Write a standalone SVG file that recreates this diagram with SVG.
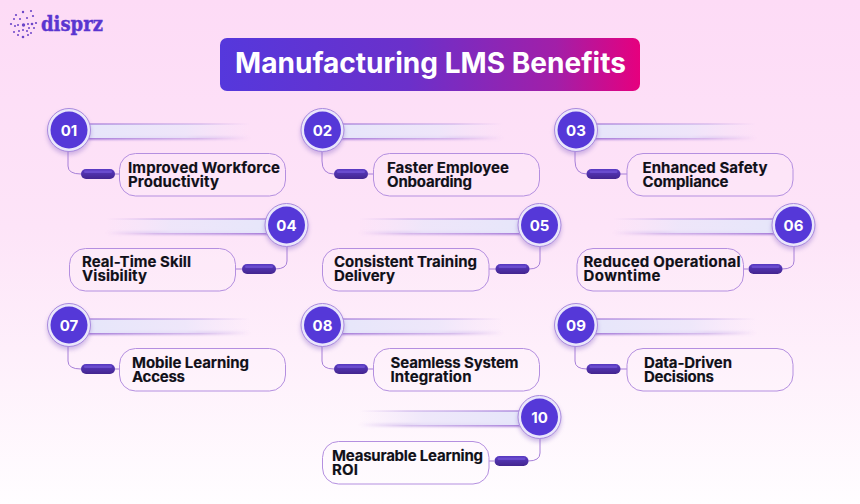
<svg xmlns="http://www.w3.org/2000/svg" xmlns:xlink="http://www.w3.org/1999/xlink" width="860" height="504" viewBox="0 0 860 504">
<style>
.lbl{font-family:"Inter","Liberation Sans",sans-serif;font-weight:700;font-size:15px;fill:#101018;stroke:#101018;stroke-width:.15}
.num{font-family:"Inter","Liberation Sans",sans-serif;font-weight:700;font-size:15px;fill:#fff;text-anchor:middle}
.box{fill:#fff;fill-opacity:.12;stroke:#b48fe0;stroke-width:1}
.wire{fill:none;stroke:#a67fd8;stroke-width:1}
.dot{fill:#6b45c8}
</style>
<defs>
<linearGradient id="bg" x1="0" y1="0" x2="0" y2="1"><stop offset="0" stop-color="#fddbf6"/><stop offset=".45" stop-color="#fde4f8"/><stop offset="1" stop-color="#fffdff"/></linearGradient>
<linearGradient id="title" x1="0" y1="0" x2="1" y2="0"><stop offset="0" stop-color="#5538dc"/><stop offset=".45" stop-color="#6b30ca"/><stop offset=".8" stop-color="#a21fa8"/><stop offset="1" stop-color="#e6007e"/></linearGradient>
<linearGradient id="barR" x1="0" y1="0" x2="1" y2="0"><stop offset="0" stop-color="#e6e6fa"/><stop offset=".6" stop-color="#ece6fa" stop-opacity=".85"/><stop offset="1" stop-color="#f4e6fa" stop-opacity="0"/></linearGradient>
<linearGradient id="barL" x1="1" y1="0" x2="0" y2="0"><stop offset="0" stop-color="#e6e6fa"/><stop offset=".6" stop-color="#ece6fa" stop-opacity=".85"/><stop offset="1" stop-color="#f4e6fa" stop-opacity="0"/></linearGradient>
<linearGradient id="edgeR" x1="0" y1="0" x2="1" y2="0"><stop offset="0" stop-color="#8f5fd0"/><stop offset=".7" stop-color="#a884dc" stop-opacity=".6"/><stop offset="1" stop-color="#b48fe0" stop-opacity="0"/></linearGradient>
<linearGradient id="edgeL" x1="1" y1="0" x2="0" y2="0"><stop offset="0" stop-color="#8f5fd0"/><stop offset=".7" stop-color="#a884dc" stop-opacity=".6"/><stop offset="1" stop-color="#b48fe0" stop-opacity="0"/></linearGradient>
<linearGradient id="pill" x1="0" y1="0" x2="0" y2="1"><stop offset="0" stop-color="#5a3cc4"/><stop offset="1" stop-color="#43258f"/></linearGradient>
<filter id="soft" x="-20%" y="-100%" width="140%" height="300%"><feGaussianBlur stdDeviation="1"/></filter>
<filter id="shade" x="-30%" y="-30%" width="160%" height="170%"><feGaussianBlur stdDeviation="2"/></filter>
<g id="medal">
<circle cx="0" cy="3" r="22" fill="#8a68c8" opacity=".4" filter="url(#shade)"/>
<circle r="21.5" fill="#eae6fb" stroke="#a98ade" stroke-width="1"/>
<circle r="18.5" fill="#5538d8"/>
</g>
<g id="barRight">
<rect x="0" y="6.500" width="162" height="3" fill="url(#edgeR)" filter="url(#soft)"/>
<rect x="0" y="-6" width="162" height="14" fill="url(#barR)"/>
<rect x="0" y="-6.500" width="162" height="1" fill="url(#edgeR)"/>
</g>
<g id="barLeft">
<rect x="-162" y="6.500" width="162" height="3" fill="url(#edgeL)" filter="url(#soft)"/>
<rect x="-162" y="-6" width="162" height="14" fill="url(#barL)"/>
<rect x="-162" y="-6.500" width="162" height="1" fill="url(#edgeL)"/>
</g>
<g id="pillShape">
<rect x="0" y="-5" width="34" height="10" rx="5" fill="url(#pill)"/>
<rect x="3" y="-3.500" width="28" height="2.500" rx="1.200" fill="#7a5ce0" opacity=".6"/>
</g>
</defs>
<rect width="860" height="504" fill="url(#bg)"/>
<g id="logo">
<g class="dot">
<circle cx="23.500" cy="25" r="1.700"/><circle cx="16" cy="15" r="1.100"/><circle cx="23" cy="12" r="1.200"/><circle cx="31" cy="11" r="1.100"/><circle cx="33" cy="16" r="1.100"/><circle cx="27" cy="18" r="1"/><circle cx="20" cy="19" r="1"/><circle cx="14" cy="19" r="1"/><circle cx="11" cy="24" r="1.100"/><circle cx="15" cy="26" r="1"/><circle cx="32" cy="24" r="1.300"/><circle cx="36" cy="23" r="1.100"/><circle cx="28" cy="24" r="1"/><circle cx="14" cy="32" r="1"/><circle cx="19" cy="31" r="1"/><circle cx="23" cy="37" r="1.300"/><circle cx="27" cy="31" r="1"/><circle cx="31" cy="33" r="1"/><circle cx="18" cy="35" r="1"/><circle cx="29" cy="28" r="1"/><circle cx="23" cy="30" r="1"/><circle cx="34" cy="28" r="1"/><circle cx="28" cy="35" r="1"/><circle cx="18" cy="25" r="1"/>
</g>
<text x="41" y="31" font-family="DejaVu Serif, serif" font-weight="700" font-size="21" fill="#5a35d0" stroke="#5a35d0" stroke-width=".4" textLength="62" lengthAdjust="spacingAndGlyphs">disprz</text>
</g>
<g id="title-node">
<rect x="220" y="38" width="420" height="53" rx="7" fill="url(#title)"/>
<text x="430.500" y="73" font-family="Inter, Liberation Sans, sans-serif" font-weight="700" font-size="28" fill="#fff" text-anchor="middle" textLength="391" lengthAdjust="spacingAndGlyphs">Manufacturing LMS Benefits</text>
</g>
<g id="connectors">
<path class="wire" d="M68 150V166Q68 174 81 174M115 174H119.500"/>
<path class="wire" d="M322 150V161Q322 174 334 174M368 174H373.500"/>
<path class="wire" d="M575 150V161Q575 174 587 174M620 174H627"/>
<path class="wire" d="M287 246V261Q287 269 275 269M242 269H236"/>
<path class="wire" d="M540 246V261Q540 269 529 269M496 269H489"/>
<path class="wire" d="M794 246V261Q794 269 782 269M748 269H743"/>
<path class="wire" d="M68 345V361Q68 369 81 369M115 369H119.500"/>
<path class="wire" d="M322 345V361Q322 369 334 369M368 369H373.500"/>
<path class="wire" d="M575 345V361Q575 369 587 369M620 369H627"/>
<path class="wire" d="M540 438V453Q540 461 528 461M494 461H489"/>
</g>
<g id="n01"><rect class="box" x="119.500" y="153.500" width="166" height="42.500" rx="16"/><use xlink:href="#pillShape" x="81" y="174"/><use xlink:href="#barRight" x="88" y="130"/><use xlink:href="#medal" x="69" y="130"/><text class="num" x="69" y="135.500">01</text><text class="lbl" x="128" y="173" textLength="152">Improved Workforce</text><text class="lbl" x="128" y="187" textLength="91">Productivity</text></g>
<g id="n02"><rect class="box" x="373.500" y="153.500" width="166" height="42.500" rx="16"/><use xlink:href="#pillShape" x="334" y="174"/><use xlink:href="#barRight" x="341" y="130"/><use xlink:href="#medal" x="322.500" y="130"/><text class="num" x="322.500" y="135.500">02</text><text class="lbl" x="387" y="173" textLength="122">Faster Employee</text><text class="lbl" x="387" y="187" textLength="85">Onboarding</text></g>
<g id="n03"><rect class="box" x="627" y="153.500" width="166" height="42.500" rx="16"/><use xlink:href="#pillShape" x="586.500" y="174"/><use xlink:href="#barRight" x="594" y="130"/><use xlink:href="#medal" x="576" y="130"/><text class="num" x="576" y="135.500">03</text><text class="lbl" x="642.500" y="173" textLength="125">Enhanced Safety</text><text class="lbl" x="642.500" y="187" textLength="86">Compliance</text></g>
<g id="n04"><rect class="box" x="69.500" y="248.500" width="166" height="42.500" rx="16"/><use xlink:href="#pillShape" x="242" y="269"/><use xlink:href="#barLeft" x="268" y="225"/><use xlink:href="#medal" x="286.500" y="225"/><text class="num" x="286.500" y="230.500">04</text><text class="lbl" x="82" y="267" textLength="109">Real-Time Skill</text><text class="lbl" x="82" y="281" textLength="65">Visibility</text></g>
<g id="n05"><rect class="box" x="322.500" y="248.500" width="166.500" height="42.500" rx="16"/><use xlink:href="#pillShape" x="495.500" y="269"/><use xlink:href="#barLeft" x="521" y="225"/><use xlink:href="#medal" x="539.500" y="225"/><text class="num" x="539.500" y="230.500">05</text><text class="lbl" x="334" y="267" textLength="143">Consistent Training</text><text class="lbl" x="334" y="281" textLength="61">Delivery</text></g>
<g id="n06"><rect class="box" x="577" y="248.500" width="166.500" height="42.500" rx="16"/><use xlink:href="#pillShape" x="748.500" y="269"/><use xlink:href="#barLeft" x="775" y="225"/><use xlink:href="#medal" x="793.500" y="225"/><text class="num" x="793.500" y="230.500">06</text><text class="lbl" x="583.500" y="267" textLength="157">Reduced Operational</text><text class="lbl" x="583.500" y="281" textLength="77">Downtime</text></g>
<g id="n07"><rect class="box" x="119.500" y="348.500" width="166" height="42.500" rx="16"/><use xlink:href="#pillShape" x="81" y="369"/><use xlink:href="#barRight" x="88" y="325"/><use xlink:href="#medal" x="69" y="325"/><text class="num" x="69" y="330.500">07</text><text class="lbl" x="132" y="368" textLength="117">Mobile Learning</text><text class="lbl" x="132" y="382" textLength="53">Access</text></g>
<g id="n08"><rect class="box" x="373.500" y="348.500" width="166" height="42.500" rx="16"/><use xlink:href="#pillShape" x="334" y="369"/><use xlink:href="#barRight" x="341" y="325"/><use xlink:href="#medal" x="322.500" y="325"/><text class="num" x="322.500" y="330.500">08</text><text class="lbl" x="390.500" y="368" textLength="128">Seamless System</text><text class="lbl" x="390.500" y="382" textLength="81">Integration</text></g>
<g id="n09"><rect class="box" x="627" y="348.500" width="166" height="42.500" rx="16"/><use xlink:href="#pillShape" x="586.500" y="369"/><use xlink:href="#barRight" x="594" y="325"/><use xlink:href="#medal" x="576" y="325"/><text class="num" x="576" y="330.500">09</text><text class="lbl" x="644" y="368" textLength="88">Data-Driven</text><text class="lbl" x="644" y="382" textLength="70">Decisions</text></g>
<g id="n10"><rect class="box" x="322.500" y="441.500" width="166.500" height="42.500" rx="16"/><use xlink:href="#pillShape" x="494.500" y="461"/><use xlink:href="#barLeft" x="521" y="417"/><use xlink:href="#medal" x="539.500" y="417"/><text class="num" x="539.500" y="422.500">10</text><text class="lbl" x="332" y="461" textLength="151">Measurable Learning</text><text class="lbl" x="332" y="475" textLength="26">ROI</text></g>
</svg>
